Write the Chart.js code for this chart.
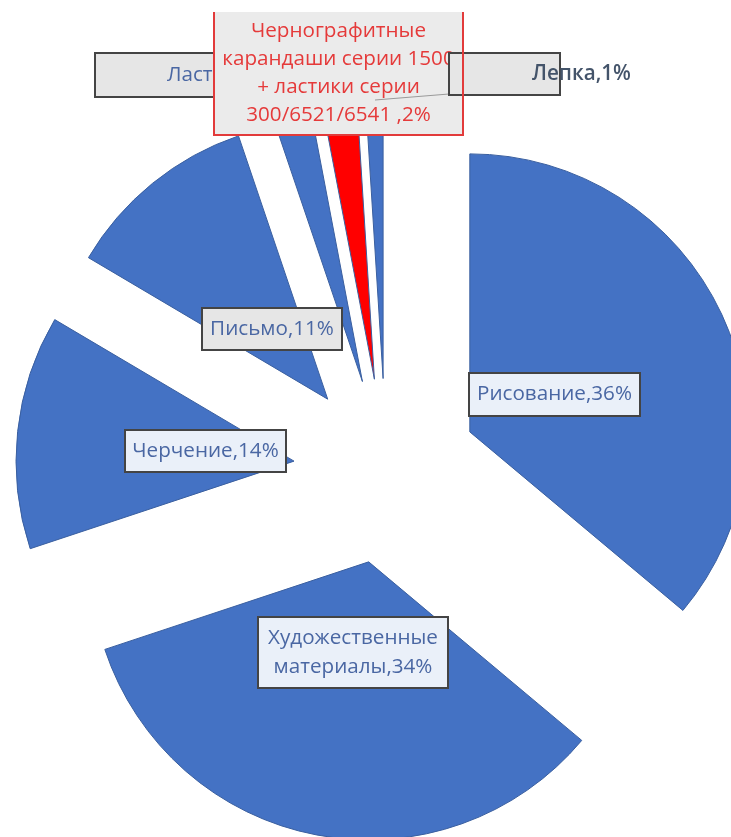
<!DOCTYPE html>
<html>
<head>
<meta charset="utf-8">
<script src="https://cdn.jsdelivr.net/npm/chart.js@4"></script>
<style>
  html, body { margin: 0; padding: 0; background: #ffffff; }
  #wrap { width: 731px; height: 837px; position: relative; }
</style>
</head>
<body>
<div id="wrap"><canvas id="c"></canvas></div>
<script>
// ---- data ----
const categories = [
  "Рисование",
  "Художественные\nматериалы",
  "Черчение",
  "Письмо",
  "Ластики",
  "Чернографитные\nкарандаши серии 1500\n+ ластики серии\n300/6521/6541 ",
  "Лепка"
];
const values = [36.1, 33.8, 13.6, 11.3, 2.2, 2.0, 1.0];   // shares, %
const sliceColors = ["#4472C4", "#4472C4", "#4472C4", "#4472C4", "#4472C4", "#FF0000", "#4472C4"];

// ---- layout / style ----
const PIE_RADIUS = 278;
const EXPLODE = 92.5;            // pixel shift of every slice along its bisector
const FONT_FAMILY = "'Open Sans', 'Noto Sans', sans-serif";
const TARGET_REF_WIDTH = 155;     // width of the first label text in the reference

// label boxes, relative to pie centre
const labelBoxes = [
  { dx: 83,   dy: -98,  w: 171, h: 43,  fill: '#EAF0F9' },
  { dx: -128, dy: 146,  w: 190, h: 71,  fill: '#EAF0F9' },
  { dx: -261, dy: -41,  w: 161, h: 42,  fill: '#EAF0F9' },
  { dx: -184, dy: -163, w: 140, h: 42,  fill: '#E6E6E6' },
  { dx: -291, dy: -418, w: 260, h: 44,  fill: '#E6E6E6', textLeft: -219 },
  { dx: -172, dy: -459, w: 249, h: 123, fill: '#EBEBEB', red: true },
  { dx: 63,   dy: -418, w: 111, h: 42,  fill: '#E6E6E6', textLeft: 146, bold: true, leader: true }
];

const labelTexts = categories.map((c, i) => (c + "," + Math.round(values[i]) + "%").split("\n"));

function pieCentre(chart) {
  const a = chart.chartArea;
  const ctrl = chart.getDatasetMeta(0).controller;
  return { x: (a.left + a.right) / 2 + (ctrl.offsetX || 0), y: (a.top + a.bottom) / 2 + (ctrl.offsetY || 0) };
}

// explode every slice by moving its centre along its bisector
const explodePlugin = {
  id: 'explode',
  afterDatasetUpdate(chart, args) {
    const c = pieCentre(chart);
    args.meta.data.forEach(arc => {
      const mid = (arc.startAngle + arc.endAngle) / 2;
      arc.x = c.x + Math.cos(mid) * EXPLODE;
      arc.y = c.y + Math.sin(mid) * EXPLODE;
    });
  }
};

const labelPlugin = {
  id: 'boxLabels',
  afterDatasetsDraw(chart) {
    const ctx = chart.ctx;
    const c = pieCentre(chart);
    const cx = c.x, cy = c.y;
    ctx.save();
    ctx.font = "20px " + FONT_FAMILY;
    const m = ctx.measureText(labelTexts[0][0]).width;
    const fs = 20 * TARGET_REF_WIDTH / m;
    ctx.textBaseline = 'middle';
    labelBoxes.forEach((b, i) => {
      const x = cx + b.dx, y = cy + b.dy;
      if (b.leader) {
        ctx.strokeStyle = '#9A9A9A';
        ctx.lineWidth = 1;
        ctx.beginPath();
        ctx.moveTo(cx - 11, cy - 371);
        ctx.lineTo(x, y + 41);
        ctx.stroke();
      }
      ctx.fillStyle = b.fill;
      ctx.fillRect(x, y, b.w, b.h);
      ctx.lineWidth = 2;
      if (b.red) {
        ctx.strokeStyle = '#E23B3B';
        ctx.beginPath();
        ctx.moveTo(x, y);
        ctx.lineTo(x, y + b.h);
        ctx.lineTo(x + b.w, y + b.h);
        ctx.lineTo(x + b.w, y);
        ctx.stroke();
      } else {
        ctx.strokeStyle = '#444444';
        ctx.strokeRect(x, y, b.w, b.h);
      }
      const lines = labelTexts[i];
      const lh = b.red ? 28 : 29;
      ctx.font = (b.bold ? "600 " : "") + fs.toFixed(2) + "px " + FONT_FAMILY;
      ctx.fillStyle = b.red ? '#E53A3A' : (b.bold ? '#44546A' : '#4A67A3');
      let tx;
      if (b.textLeft !== undefined) { ctx.textAlign = 'left'; tx = cx + b.textLeft; }
      else { ctx.textAlign = 'center'; tx = x + b.w / 2; }
      const y0 = y + b.h / 2 - (lines.length - 1) * lh / 2;
      lines.forEach((ln, k) => ctx.fillText(ln, tx, y0 + k * lh));
    });
    // red box right border re-drawn on top
    const rb = labelBoxes[5];
    ctx.strokeStyle = '#E23B3B';
    ctx.lineWidth = 2;
    ctx.beginPath();
    ctx.moveTo(cx + rb.dx + rb.w, cy + rb.dy);
    ctx.lineTo(cx + rb.dx + rb.w, cy + rb.dy + rb.h);
    ctx.stroke();
    ctx.restore();
  }
};

new Chart(document.getElementById('c'), {
  type: 'pie',
  data: {
    labels: categories.map(c => c.replace(/\n/g, ' ').trim()),
    datasets: [{
      data: values,
      backgroundColor: sliceColors,
      borderColor: '#3A5F9F',
      borderWidth: 1,
      radius: PIE_RADIUS,
      clip: false
    }]
  },
  options: {
    responsive: true,
    maintainAspectRatio: false,
    animation: false,
    events: [],
    layout: { padding: { left: 41, top: 105, right: 0, bottom: 0 } },
    plugins: { legend: { display: false }, tooltip: { enabled: false } }
  },
  plugins: [explodePlugin, labelPlugin]
});
</script>
</body>
</html>
